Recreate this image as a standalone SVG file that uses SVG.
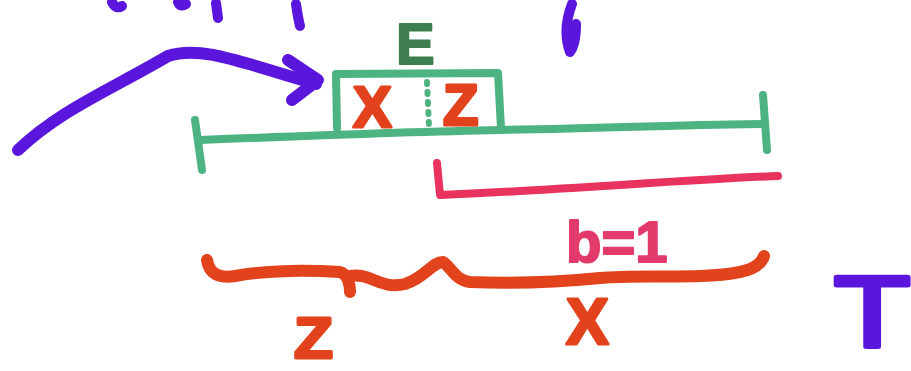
<svg xmlns="http://www.w3.org/2000/svg" width="911" height="371" viewBox="0 0 911 371">
<style>
.ln{fill:none;stroke-linecap:round;stroke-linejoin:round}
.pur{stroke:#5a16dc}
.grn{stroke:#4db381}
.red{stroke:#e2421c}
.pnk{stroke:#e8335e}
.t{font-family:"Liberation Sans",Arial,sans-serif;font-weight:bold;stroke-linejoin:round;stroke-linecap:round}
.tred{fill:#e2421c;stroke:#e2421c;stroke-width:3}
.thin{font-weight:normal}
</style>
<rect width="911" height="371" fill="#ffffff"/>
<g id="top-fragments" class="ln pur" stroke-width="10">
<path d="M112 2 Q116 10 122 6"/>
<path d="M178 2 Q180 8 186 4"/>
<path d="M216 3 L218 18"/>
<path d="M296 4 Q298 18 300 26"/>
<path d="M572 4 Q562 30 570 52 Q576 44 576 24"/>
</g>
<g id="connectors">
<path id="arrow" class="ln pur" stroke-width="12" d="M18 150 C60 110 110 90 168 56 C200 45 240 62 316 84"/>
<path class="ln pur" stroke-width="12" d="M288 60 L318 80 L292 100"/>
</g>
<g id="timeline" class="ln grn" stroke-width="8">
<path d="M200 140 C300 136 400 132 500 130 C620 128 700 124 765 124"/>
<path d="M195 120 L202 170"/>
<path d="M763 95 L767 150"/>
</g>
<g id="node-E">
<path class="ln grn" stroke-width="8" d="M337 128 L336 74 L498 73 L501 128"/>
<path class="ln grn" stroke-width="6" stroke-dasharray="2 8" d="M427 82 L429 126"/>
<text class="t" x="396" y="64" font-size="58" fill="#3e7e50" stroke="#3e7e50" stroke-width="2">E</text>
<text class="t tred" x="353" y="127" font-size="58">X</text>
<text class="t tred" x="443" y="125" font-size="58">Z</text>
</g>
<g id="bracket" class="ln pnk" stroke-width="8">
<path d="M437 163 L440 195 C560 190 680 180 778 176"/>
</g>
<g id="label-b">
<text class="t" x="566" y="262" font-size="58" fill="#e23a6a" stroke="#e23a6a" stroke-width="2">b=1</text>
</g>
<g id="brace" class="ln red" stroke-width="12">
<path d="M207 260 Q210 280 235 276 C270 270 310 270 340 272 C348 274 350 285 350 292"/>
<path d="M350 276 C370 272 380 290 405 284 C425 278 432 262 443 262 C452 268 455 280 470 282 C520 284 560 282 600 278 C640 274 700 280 740 272 Q760 268 764 256"/>
</g>
<g id="label-Z">
<text class="t tred" x="0" y="0" font-size="57" transform="translate(294 358) scale(1.12 1)">Z</text>
</g>
<g id="label-X">
<text class="t tred" x="566" y="344" font-size="64">X</text>
</g>
<g id="label-T">
<text class="t thin" x="0" y="0" font-size="100" fill="#5a16dc" stroke="#5a16dc" stroke-width="5" transform="translate(834 346) scale(1.25 1)">T</text>
</g>
</svg>
